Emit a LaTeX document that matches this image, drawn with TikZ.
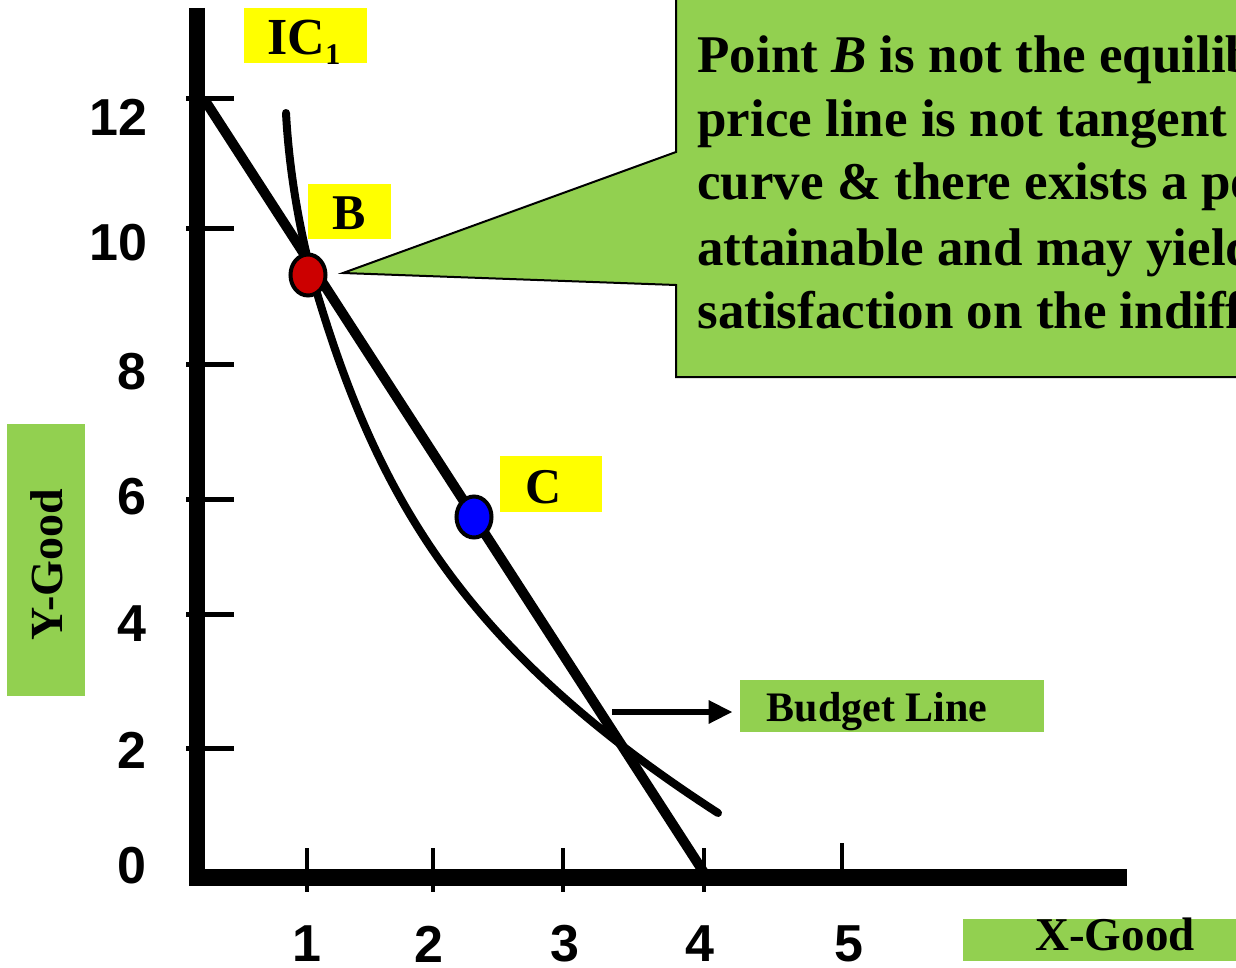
\documentclass[tikz,border=0pt]{standalone}
\usepackage{fontspec}
\setmainfont{Liberation Serif}
\newfontfamily\numfont{Liberation Sans}
\usetikzlibrary{shapes.geometric,arrows.meta}
\definecolor{cgreen}{HTML}{92D050}
\definecolor{cyellow}{HTML}{FFFF00}
\definecolor{cred}{HTML}{CC0000}
\definecolor{cblue}{HTML}{0000FF}
\begin{document}
\begin{tikzpicture}[x=0.5pt,y=-0.5pt,
  numlbl/.style={font=\numfont\bfseries\fontsize{26}{26}\selectfont, inner sep=0pt},
  ylbl/.style={numlbl, anchor=east},
  xlbl/.style={numlbl, anchor=center},
  ybox/.style={fill=cyellow, inner sep=0pt},
  gbox/.style={fill=cgreen, inner sep=0pt},
  lbltext/.style={inner sep=0pt, anchor=base, font=\bfseries\fontsize{25}{25}\selectfont},
  ptdot/.style={ellipse, draw=black, line width=2pt, minimum width=17.5pt, minimum height=20.5pt, inner sep=0pt},
  calltext/.style={anchor=base west, inner sep=0pt, font=\bfseries\fontsize{26.5}{32}\selectfont},
  axisline/.style={line width=8pt},
  ytick/.style={line width=2.5pt},
  xtick/.style={line width=2pt}
]
\useasboundingbox (0,0) rectangle (1236,968);
\clip (0,0) rectangle (1236,968);

% axes
\coordinate (ytop) at (197,8);
\coordinate (ybot) at (197,886);
\coordinate (xl) at (189,877.5);
\coordinate (xr) at (1127,877.5);
\draw[axisline] (ytop) -- (ybot);
\draw[axisline, line width=8.5pt] (xl) -- (xr);

% ticks
\foreach \yy in {99,229,364,499,614,748} \draw[ytick] (186,\yy) -- (234,\yy);
\foreach \xx in {307,433,563,704} \draw[xtick] (\xx,848) -- (\xx,892);
\draw[xtick] (842,843) -- (842,885);

% tick labels
\node[ylbl] (l12) at (148,117) {12};
\node[ylbl] (l10) at (148,243) {10};
\node[ylbl] (l8) at (147,372) {8};
\node[ylbl] (l6) at (147,497) {6};
\node[ylbl] (l4) at (147,624) {4};
\node[ylbl] (l2) at (147,750) {2};
\node[ylbl] (l0) at (147,866) {0};
\node[xlbl] (x1) at (307,944) {1};
\node[xlbl] (x2) at (429,944) {2};
\node[xlbl] (x3) at (565,944) {3};
\node[xlbl] (x4) at (700,944) {4};
\node[xlbl] (x5) at (849,944) {5};

% axis titles
\node[gbox, minimum width=39pt, minimum height=136pt] (ygbox) at (46,560) {};
\node[inner sep=0pt, rotate=90, font=\bfseries\fontsize{23}{23}\selectfont] (ygtext) at (47,565) {Y-Good};
\node[gbox, minimum width=140pt, minimum height=21pt] (xgbox) at (1103,940) {};
\node[inner sep=0pt, anchor=base, font=\bfseries\fontsize{23.5}{23.5}\selectfont] (xgtext) at (1115,950) {X-Good};

% indifference curve
\coordinate (ic0) at (286,113);
\coordinate (icm) at (317,293);
\coordinate (ic1) at (718,813);
\draw[line width=4pt, line cap=round] (ic0) .. controls (289,170) and (300,237) .. (icm)
  .. controls (379,500) and (466,650) .. (ic1);

% budget line
\coordinate (bl0) at (204,99);
\coordinate (bl1) at (710,882);
\draw[line width=5pt] (bl0) -- (bl1);

% budget line label and arrow
\node[gbox, minimum width=152pt, minimum height=26pt] (blbox) at (892,706) {};
\node[inner sep=0pt, anchor=base, font=\bfseries\fontsize{21}{21}\selectfont] (bltext) at (877,721) {Budget Line};
\coordinate (arrstart) at (612,712);
\draw[line width=3pt, -{Triangle[length=12pt,width=11pt]}] (arrstart) -- ([xshift=-3.5pt]blbox.west |- arrstart);

% points
\node[ptdot, fill=cred] (ptB) at (308,275) {};
\node[ptdot, fill=cblue] (ptC) at (474,517) {};

% yellow labels
\node[ybox, minimum width=61.5pt, minimum height=27.5pt] (icbox) at (305.5,35.5) {};
\node[lbltext, font=\bfseries\fontsize{26}{26}\selectfont] (ictext) at (304,55) {IC\raisebox{-5pt}{\fontsize{15}{15}\selectfont 1}};
\node[ybox, minimum width=41.5pt, minimum height=27.5pt] (bbox) at (349.5,211.5) {};
\node[lbltext] (btext) at (349,230) {B};
\node[ybox, minimum width=51pt, minimum height=28pt] (cbox) at (551,484) {};
\node[lbltext] (ctext) at (544,503) {C};

% callout
\coordinate (tip) at (343,273);
\filldraw[fill=cgreen, draw=black, line width=1pt] (676,-10) -- (676,152) -- (tip) -- (676,285) -- (676,377) -- (1250,377) -- (1250,-10) -- cycle;
\node[calltext] (t1) at (697,73) {Point \textit{B} is not the equilibrium};
\node[calltext] (t2) at (697,137) {price line is not tangent to};
\node[calltext] (t3) at (697,200) {curve \& there exists a point};
\node[calltext] (t4) at (697,265) {attainable and may yield};
\node[calltext] (t5) at (697,328) {satisfaction on the indifference};
\end{tikzpicture}
\end{document}
